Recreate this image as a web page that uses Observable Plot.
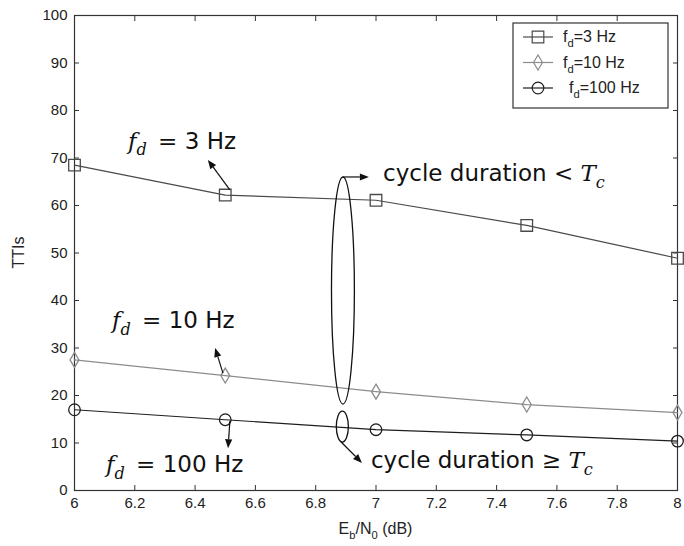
<!DOCTYPE html>
<html>
<head>
<meta charset="utf-8">
<script src="https://cdn.jsdelivr.net/npm/d3@7"></script>
<script src="https://cdn.jsdelivr.net/npm/@observablehq/plot@0.6"></script>
<style>
  body { margin: 0; background: #fff; }
  #chart { width: 684px; height: 546px; }
</style>
</head>
<body>
<div id="chart"></div>
<script>
// Eb/N0 (dB) sample points
const ebn0 = [6, 6.5, 7, 7.5, 8];
// Number of TTIs for each Doppler frequency
const tti3 = [68.5, 62.2, 61.1, 55.8, 48.9];
const tti10 = [27.5, 24.2, 20.8, 18.1, 16.4];
const tti100 = [17.0, 14.9, 12.8, 11.7, 10.4];
const seriesLabels = ["3", "10", "100"];

// Axis ticks
const xTicks = [6, 6.2, 6.4, 6.6, 6.8, 7, 7.2, 7.4, 7.6, 7.8, 8];
const yTicks = [0, 10, 20, 30, 40, 50, 60, 70, 80, 90, 100];

// Annotation geometry (data units)
const arrows = [
  {x1: 6.517, y1: 63.2, x2: 6.444, y2: 69.5},
  {x1: 6.494, y1: 24.6, x2: 6.468, y2: 29.9},
  {x1: 6.517, y1: 14.5, x2: 6.511, y2: 8.8},
  {x1: 6.892, y1: 65.9, x2: 6.978, y2: 65.9},
  {x1: 6.886, y1: 10.1, x2: 6.955, y2: 5.7}
];
const ellipses = [
  {cx: 6.892, cy: 42.0, rx: 0.038, ry: 23.9},
  {cx: 6.890, cy: 13.35, rx: 0.020, ry: 3.25}
];
const annoLabels = [
  {x: 6.179, y: 73.0, kind: "fd", value: "3"},
  {x: 6.126, y: 35.2, kind: "fd", value: "10"},
  {x: 6.106, y: 4.8, kind: "fd", value: "100"},
  {x: 7.025, y: 66.1, kind: "cycle", rel: "<"},
  {x: 6.985, y: 5.7, kind: "cycle", rel: "\u2265"}
];

const colors = {"3": "#4a4a4a", "10": "#8c8c8c", "100": "#1e1e1e"};

const rows = (vals) => ebn0.map((x, i) => ({x, y: vals[i]}));

// Marker shapes (open square, tall diamond, circle)
const squareSym = {draw(c, size) { const r = Math.sqrt(size / Math.PI); c.rect(-r, -r, 2 * r, 2 * r); }};
const diamondSym = {draw(c, size) {
  const r = Math.sqrt(size / Math.PI);
  c.moveTo(0, -1.5 * r); c.lineTo(0.9 * r, 0); c.lineTo(0, 1.5 * r); c.lineTo(-0.9 * r, 0); c.closePath();
}};
const circleSym = {draw(c, size) { const r = Math.sqrt(size / Math.PI); c.moveTo(r, 0); c.arc(0, 0, r, 0, 2 * Math.PI); }};

const MATH = "'DejaVu Serif', serif";
const SANS = "'DejaVu Sans', sans-serif";
const TICKFONT = "'Liberation Sans', Arial, sans-serif";

// Write a sequence of styled parts into a <text>, handling subscripts
function writeParts(text, parts, size) {
  let shifted = false;
  for (const p of parts) {
    const t = text.append("tspan").text(p.t)
      .attr("font-family", p.math ? MATH : (p.font || SANS))
      .attr("font-style", p.italic ? "italic" : "normal")
      .attr("font-size", p.sub ? size * 0.7 : size);
    if (p.sub && !shifted) { t.attr("dy", size * 0.3); shifted = true; }
    else if (!p.sub && shifted) { t.attr("dy", -size * 0.3); shifted = false; }
    if (p.dx) t.attr("dx", p.dx);
  }
}

function annotationMark(index, scales) {
  const g = d3.create("svg:g").attr("fill", "#111").attr("text-anchor", "start");
  const size = 23;
  for (const a of annoLabels) {
    const text = g.append("text")
      .attr("x", scales.x(a.x)).attr("y", scales.y(a.y))
      .attr("dy", "0.35em");
    if (a.kind === "fd") {
      writeParts(text, [
        {t: "f", math: true, italic: true},
        {t: "d", math: true, italic: true, sub: true},
        {t: " = ", math: true, dx: 4},
        {t: a.value + " Hz"}
      ], size);
    } else {
      writeParts(text, [
        {t: "cycle duration "},
        {t: a.rel + " ", math: true},
        {t: "T", math: true, italic: true},
        {t: "c", math: true, italic: true, sub: true}
      ], size);
    }
  }
  return g.node();
}

function arrowMark(index, scales) {
  const g = d3.create("svg:g");
  for (const a of arrows) {
    const X1 = scales.x(a.x1), Y1 = scales.y(a.y1), X2 = scales.x(a.x2), Y2 = scales.y(a.y2);
    const ang = Math.atan2(Y2 - Y1, X2 - X1), hl = 9, hw = 3.6;
    const cs = Math.cos(ang), sn = Math.sin(ang);
    const bx = X2 - hl * cs, by = Y2 - hl * sn;
    g.append("line").attr("x1", X1).attr("y1", Y1).attr("x2", bx).attr("y2", by)
      .attr("stroke", "#111").attr("stroke-width", 1.2);
    g.append("polygon")
      .attr("points", `${X2},${Y2} ${bx - hw * sn},${by + hw * cs} ${bx + hw * sn},${by - hw * cs}`)
      .attr("fill", "#111");
  }
  for (const e of ellipses) {
    const cx = scales.x(e.cx), cy = scales.y(e.cy);
    g.append("ellipse").attr("cx", cx).attr("cy", cy)
      .attr("rx", scales.x(e.cx + e.rx) - cx).attr("ry", scales.y(e.cy - e.ry) - cy)
      .attr("fill", "none").attr("stroke", "#111").attr("stroke-width", 1.3);
  }
  return g.node();
}

function legendMark(index, scales, values, dims) {
  const x0 = dims.width - dims.marginRight - 164, y0 = dims.marginTop + 8;
  const g = d3.create("svg:g").attr("text-anchor", "start");
  g.append("rect").attr("x", x0).attr("y", y0).attr("width", 155).attr("height", 85)
    .attr("fill", "#fff").attr("stroke", "#333").attr("stroke-width", 1.2);
  const syms = [squareSym, diamondSym, circleSym];
  const radii = [5.8, 5, 5.8];
  seriesLabels.forEach((s, i) => {
    const y = y0 + 14 + i * 25.5;
    g.append("line").attr("x1", x0 + 10).attr("x2", x0 + 40).attr("y1", y).attr("y2", y)
      .attr("stroke", colors[s]).attr("stroke-width", 1.2);
    g.append("path").attr("d", d3.symbol(syms[i], radii[i] * radii[i] * Math.PI)())
      .attr("transform", `translate(${x0 + 25},${y})`)
      .attr("fill", "none").attr("stroke", colors[s]).attr("stroke-width", 1.2);
    const text = g.append("text").attr("x", x0 + 50 + (i === 2 ? 6 : 0)).attr("y", y).attr("dy", "0.35em")
      .attr("fill", "#222");
    writeParts(text, [
      {t: "f", font: TICKFONT},
      {t: "d", font: TICKFONT, sub: true},
      {t: "=" + s + " Hz", font: TICKFONT}
    ], 16);
  });
  return g.node();
}

function axisTitles(index, scales, values, dims) {
  const g = d3.create("svg:g").attr("fill", "#222");
  const cx = (dims.marginLeft + dims.width - dims.marginRight) / 2;
  const cy = (dims.marginTop + dims.height - dims.marginBottom) / 2;
  g.append("text").attr("transform", `translate(24,${cy}) rotate(-90)`)
    .attr("text-anchor", "middle").attr("font-family", TICKFONT).attr("font-size", 16).text("TTIs");
  const t = g.append("text").attr("x", cx).attr("y", dims.height - 12).attr("text-anchor", "middle");
  writeParts(t, [
    {t: "E", font: TICKFONT},
    {t: "b", font: TICKFONT, sub: true},
    {t: "/N", font: TICKFONT},
    {t: "0", font: TICKFONT, sub: true},
    {t: " (dB)", font: TICKFONT}
  ], 16);
  return g.node();
}

const tickStroke = {stroke: "#333", strokeWidth: 1};

const chart = Plot.plot({
  width: 684,
  height: 546,
  marginLeft: 74,
  marginRight: 7,
  marginTop: 15,
  marginBottom: 56,
  style: {background: "#fff", color: "#222", fontFamily: TICKFONT, fontSize: "15px"},
  x: {domain: [6, 8], label: null},
  y: {domain: [0, 100], label: null},
  marks: [
    Plot.axisX(xTicks, {anchor: "bottom", tickSize: 0, tickPadding: 7, tickFormat: d3.format("~g"), label: null, fontSize: 15}),
    Plot.axisY(yTicks, {anchor: "left", tickSize: 0, tickPadding: 7, label: null, fontSize: 15}),
    Plot.axisX(xTicks, {anchor: "bottom", tickSize: -5, text: null, label: null, ...tickStroke}),
    Plot.axisX(xTicks, {anchor: "top", tickSize: -5, text: null, label: null, ...tickStroke}),
    Plot.axisY(yTicks, {anchor: "left", tickSize: -5, text: null, label: null, ...tickStroke}),
    Plot.axisY(yTicks, {anchor: "right", tickSize: -5, text: null, label: null, ...tickStroke}),
    Plot.frame({stroke: "#333", strokeWidth: 1.2}),
    Plot.line(rows(tti3), {x: "x", y: "y", stroke: colors["3"], strokeWidth: 1.2}),
    Plot.line(rows(tti10), {x: "x", y: "y", stroke: colors["10"], strokeWidth: 1.3}),
    Plot.line(rows(tti100), {x: "x", y: "y", stroke: colors["100"], strokeWidth: 1.2}),
    Plot.dot(rows(tti3), {x: "x", y: "y", symbol: squareSym, r: 5.8, stroke: colors["3"], strokeWidth: 1.3, fill: "none"}),
    Plot.dot(rows(tti10), {x: "x", y: "y", symbol: diamondSym, r: 5, stroke: colors["10"], strokeWidth: 1.3, fill: "none"}),
    Plot.dot(rows(tti100), {x: "x", y: "y", symbol: circleSym, r: 5.8, stroke: colors["100"], strokeWidth: 1.3, fill: "none"}),
    arrowMark,
    annotationMark,
    legendMark,
    axisTitles
  ]
});

document.getElementById("chart").append(chart);
</script>
</body>
</html>
